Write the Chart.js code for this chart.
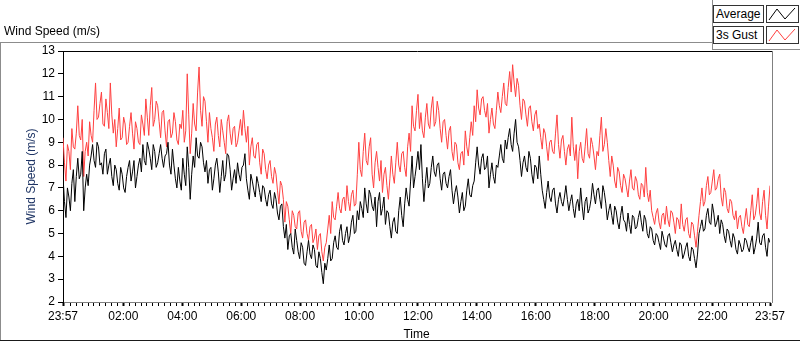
<!DOCTYPE html>
<html>
<head>
<meta charset="utf-8">
<script src="https://cdn.jsdelivr.net/npm/chart.js@4.4.1/dist/chart.umd.min.js"></script>
<style>
  html, body { margin: 0; padding: 0; background: #fff; }
  body { width: 800px; height: 342px; position: relative; overflow: hidden;
         font-family: "Liberation Sans", Arial, sans-serif; font-size: 12px; color: #000; }
  #chart { position: absolute; left: 0; top: 0; }
  .abs { position: absolute; }
  #topTitle { left: 4px; top: 24px; }
  #frameTop { left: 0; top: 42px; width: 712px; border-top: 1px solid #8c8c8c; }
  #frameLeft { left: 0; top: 42px; height: 299px; border-left: 1px solid #8c8c8c; }
  #frameBottom { left: 0; top: 340px; width: 800px; border-top: 1px solid #1a1a1a; }
  #legendPanel { left: 712px; top: 0; width: 88px; height: 49px; background: #fff;
                 border-left: 1px solid #8c8c8c; border-bottom: 1px solid #8c8c8c; }
  .legName { left: 713px; width: 47px; height: 16px; line-height: 16px; padding-left: 2px;
             border: 1px solid #333; background: #fff; }
  .legIcon { left: 766px; width: 31px; height: 16px; border: 1px solid #333; background: #fff; }
</style>
</head>
<body>
<canvas id="chart" width="800" height="342"></canvas>
<div id="topTitle" class="abs">Wind Speed (m/s)</div>
<div id="frameTop" class="abs"></div>
<div id="frameLeft" class="abs"></div>
<div id="frameBottom" class="abs"></div>
<div id="legendPanel" class="abs"></div>
<div class="abs legName" style="top:5px">Average</div>
<div class="abs legIcon" style="top:5px">
  <svg width="31" height="16"><polyline points="2,14 10,3 18,13 28,2" fill="none" stroke="#000" stroke-width="1"/></svg>
</div>
<div class="abs legName" style="top:26px">3s Gust</div>
<div class="abs legIcon" style="top:26px">
  <svg width="31" height="16"><polyline points="2,14 10,3 18,13 28,2" fill="none" stroke="#ff4040" stroke-width="1"/></svg>
</div>
<script>
// 24 h of wind speed samples (~3 min apart) (m/s)
const avgSpeed = [
  7.5, 6.4, 5.7, 7.0, 6.6, 6.0, 7.2, 7.8, 6.4, 7.5,
  8.3, 7.4, 7.6, 8.6, 6.0, 7.0, 7.6, 7.1, 8.0, 8.4,
  8.9, 8.2, 7.9, 9.0, 8.8, 8.0, 8.1, 7.6, 8.5, 8.7,
  7.6, 8.0, 8.3, 7.5, 7.1, 8.0, 7.8, 7.2, 6.9, 7.9,
  7.6, 7.0, 6.8, 7.5, 7.9, 8.2, 7.3, 7.7, 8.2, 7.0,
  7.5, 8.0, 8.3, 7.7, 8.9, 8.2, 8.0, 9.0, 8.7, 8.3,
  7.8, 8.9, 8.6, 7.9, 8.1, 8.5, 8.9, 8.3, 7.9, 8.4,
  8.5, 9.0, 8.0, 7.6, 8.7, 8.0, 7.4, 7.0, 7.9, 7.3,
  6.9, 8.3, 7.6, 7.1, 8.8, 7.9, 6.5, 7.6, 8.4, 7.9,
  9.2, 8.4, 8.3, 9.0, 8.8, 8.1, 7.7, 8.2, 7.2, 7.8,
  7.9, 6.9, 7.4, 8.0, 8.3, 7.7, 6.8, 7.5, 8.2, 7.3,
  7.6, 8.5, 8.4, 7.8, 6.9, 7.4, 7.8, 7.2, 8.1, 7.6,
  7.3, 7.9, 8.0, 8.5, 7.4, 6.9, 6.5, 7.6, 7.3, 6.9,
  6.6, 7.5, 7.2, 6.8, 6.4, 7.1, 7.0, 6.5, 6.2, 6.7,
  6.9, 6.3, 6.1, 6.8, 6.5, 5.9, 5.6, 6.2, 6.3, 5.3,
  4.8, 5.4, 4.3, 4.9, 5.0, 4.4, 4.1, 5.2, 4.7, 4.2,
  3.9, 4.6, 4.4, 3.7, 3.6, 4.2, 4.7, 4.1, 3.9, 4.5,
  4.3, 3.6, 3.5, 4.2, 3.9, 3.3, 2.8, 3.7, 3.4, 3.9,
  4.5, 3.8, 3.9, 4.6, 4.9, 4.4, 4.3, 5.1, 5.4, 4.7,
  4.5, 5.0, 5.3, 4.6, 4.9, 5.5, 5.8, 5.0, 5.1, 6.0,
  5.6, 6.4, 6.1, 5.7, 7.0, 6.3, 5.9, 6.9, 6.7, 6.2,
  6.0, 6.6, 5.3, 6.4, 6.8, 5.8, 6.1, 6.6, 5.4, 6.0,
  5.9, 5.3, 4.8, 5.5, 5.7, 5.1, 5.0, 6.0, 6.6, 5.8,
  5.3, 6.3, 7.0, 6.5, 6.2, 7.3, 8.4, 7.0, 7.5, 8.0,
  8.6, 7.8, 8.9, 7.4, 6.4, 7.2, 7.9, 7.0, 7.2, 7.9,
  8.4, 7.7, 7.5, 8.0, 8.1, 7.4, 6.9, 7.6, 7.7, 7.2,
  7.0, 7.5, 7.8, 6.9, 6.3, 6.8, 7.1, 6.6, 5.9, 6.4,
  6.8, 6.0, 6.2, 6.9, 7.4, 6.7, 6.6, 7.1, 7.3, 8.1,
  8.8, 8.0, 7.6, 8.3, 8.5, 7.8, 7.9, 8.4, 7.0, 7.6,
  8.1, 7.5, 7.2, 8.0, 7.9, 8.4, 8.9, 8.3, 8.1, 9.1,
  8.7, 9.2, 9.6, 8.9, 8.6, 9.4, 10.0, 9.0, 8.8, 8.2,
  7.5, 8.1, 8.4, 7.9, 7.7, 8.6, 8.3, 7.6, 7.2, 8.0,
  7.9, 7.4, 8.4, 7.6, 6.9, 6.5, 6.1, 6.8, 7.3, 6.6,
  6.4, 6.9, 7.0, 6.3, 5.9, 6.5, 6.8, 6.4, 6.2, 6.6,
  7.1, 6.5, 6.0, 6.4, 6.7, 6.1, 5.7, 6.3, 6.5, 6.0,
  7.0, 6.2, 5.6, 6.4, 6.6, 5.9, 6.1, 6.5, 7.2, 6.7,
  6.3, 6.9, 7.0, 6.5, 6.1, 7.1, 6.8, 6.3, 5.6, 6.0,
  6.3, 5.8, 5.4, 6.2, 6.0, 5.5, 5.2, 5.8, 6.2, 5.6,
  5.5, 5.1, 5.9, 5.4, 5.0, 5.8, 5.7, 5.2, 5.3, 5.7,
  6.0, 5.5, 5.1, 5.8, 5.6, 5.0, 4.8, 5.3, 5.2, 4.7,
  4.5, 5.0, 4.9, 4.6, 4.3, 5.1, 4.8, 4.5, 4.4, 4.9,
  5.0, 4.6, 4.2, 4.5, 4.7, 4.3, 4.0, 4.6, 4.5, 3.9,
  4.1, 4.4, 4.6, 4.0, 3.8, 4.4, 4.3, 3.9, 3.5, 4.1,
  5.0, 5.3, 5.6, 5.1, 5.2, 5.8, 6.1, 5.5, 5.4, 6.3,
  5.9, 5.3, 5.5, 5.8, 5.0, 5.6, 5.4, 4.9, 4.6, 5.2,
  5.1, 4.7, 4.4, 5.0, 4.8, 4.3, 4.1, 4.7, 4.5, 4.2,
  4.3, 4.8, 4.7, 4.4, 4.2, 4.6, 4.9, 4.1, 4.4, 4.8,
  5.5, 4.6, 4.5, 4.9, 5.0, 4.4, 4.0, 4.8, 4.6
];

const gustSpeed = [
  9.2, 8.1, 7.3, 8.9, 8.6, 7.8, 9.6, 8.8, 8.7, 9.4,
  10.6, 9.3, 9.1, 10.0, 7.5, 8.6, 9.0, 8.4, 9.9, 9.3,
  9.0, 10.4, 11.6, 10.0, 10.1, 10.7, 11.2, 9.8, 9.7, 10.9,
  10.3, 9.6, 11.6, 10.2, 9.4, 10.0, 8.8, 9.6, 10.5, 9.1,
  9.2, 10.1, 9.8, 8.9, 9.0, 9.7, 10.3, 9.4, 8.7, 9.9,
  9.6, 9.0, 8.9, 10.2, 9.8, 9.3, 10.9, 10.1, 9.3, 10.6,
  11.4, 9.7, 10.0, 10.8, 10.6, 9.9, 9.2, 10.3, 10.4, 9.5,
  8.8, 9.9, 10.0, 9.2, 9.4, 10.3, 9.9, 9.1, 8.9, 9.8,
  9.6, 10.4, 9.0, 9.5, 12.0, 10.2, 8.5, 9.4, 10.7, 9.8,
  9.5, 11.2, 12.3, 10.4, 9.7, 11.0, 10.8, 9.9, 9.0, 10.3,
  9.6, 9.2, 8.6, 9.8, 10.1, 9.3, 8.8, 10.0, 9.5, 9.0,
  8.5, 9.9, 10.2, 9.4, 8.9, 9.6, 9.7, 8.8, 9.0, 9.5,
  10.0, 9.3, 10.4, 9.6, 9.0, 9.7, 8.0, 8.8, 9.2, 8.4,
  8.3, 8.9, 9.0, 8.1, 7.6, 8.7, 8.5, 7.8, 7.4, 8.0,
  8.2, 7.5, 7.2, 7.9, 7.6, 6.9, 6.3, 7.3, 7.1, 6.5,
  5.5, 6.4, 6.2, 5.6, 5.0, 6.0, 5.8, 5.3, 5.2, 5.9,
  6.0, 5.1, 4.8, 5.5, 5.6, 5.0, 4.7, 5.3, 5.4, 4.6,
  4.8, 5.2, 4.3, 4.9, 5.0, 4.2, 3.8, 4.4, 4.6, 5.2,
  5.8, 5.0, 6.4, 5.7, 5.6, 6.2, 6.8, 6.1, 5.9, 6.5,
  6.6, 6.0, 7.1, 6.4, 6.0, 6.7, 6.9, 6.2, 6.3, 7.6,
  9.0, 7.8, 7.5, 8.6, 9.4, 8.2, 8.0, 8.8, 9.2, 7.6,
  7.0, 8.1, 8.6, 7.9, 7.3, 8.2, 6.8, 7.6, 7.9, 7.1,
  6.5, 7.4, 8.4, 7.6, 7.2, 8.1, 9.0, 8.0, 7.7, 8.5,
  8.6, 7.9, 7.5, 8.8, 9.4, 8.6, 10.6, 9.7, 9.5, 10.4,
  11.1, 9.6, 10.3, 9.5, 9.2, 10.1, 10.7, 9.8, 9.6, 10.5,
  11.0, 9.7, 9.9, 10.8, 10.4, 9.6, 9.0, 9.9, 10.0, 9.3,
  8.7, 9.5, 9.7, 8.6, 8.2, 9.0, 8.9, 8.1, 7.8, 8.5,
  8.6, 8.0, 9.5, 8.8, 8.4, 9.2, 9.9, 9.3, 10.6, 9.9,
  11.3, 10.5, 10.2, 10.9, 11.0, 10.4, 10.1, 10.7, 9.4, 10.0,
  10.5, 9.8, 9.6, 10.4, 11.2, 10.6, 10.3, 11.0, 11.6, 10.7,
  10.6, 11.4, 12.1, 11.2, 12.4, 11.6, 11.0, 11.8, 11.5, 10.6,
  10.0, 10.9, 10.8, 10.2, 9.7, 10.5, 10.6, 9.9, 9.5, 10.2,
  10.4, 9.6, 9.8, 9.2, 8.7, 9.6, 9.4, 8.8, 8.2, 9.0,
  9.1, 8.6, 8.5, 9.4, 10.2, 8.9, 8.3, 9.1, 9.3, 8.6,
  8.0, 8.7, 8.9, 8.4, 10.1, 8.8, 8.2, 8.9, 7.4, 8.6,
  9.0, 8.3, 8.1, 8.8, 9.6, 8.5, 8.3, 9.2, 8.9, 8.4,
  7.8, 8.6, 8.4, 9.3, 10.1, 8.6, 8.9, 9.6, 9.0, 8.2,
  7.5, 8.4, 8.0, 7.3, 7.0, 7.9, 7.7, 7.1, 6.8, 7.6,
  7.4, 7.0, 6.6, 7.3, 7.8, 7.0, 6.9, 7.5, 7.3, 6.7,
  6.5, 7.2, 7.1, 6.6, 7.9, 6.8, 6.4, 6.9, 6.0, 5.7,
  5.4, 5.9, 6.1, 5.5, 5.2, 5.8, 5.9, 5.4, 6.2, 5.6,
  5.3, 6.0, 5.9, 5.5, 5.0, 5.7, 5.6, 5.2, 6.3, 5.4,
  5.1, 5.6, 5.7, 5.0, 4.8, 5.5, 5.4, 4.9, 4.4, 5.1,
  5.8, 6.4, 7.0, 6.2, 6.4, 7.1, 7.5, 6.7, 6.8, 7.3,
  7.8, 6.9, 7.0, 7.4, 7.6, 6.6, 6.2, 7.0, 6.8, 6.1,
  5.9, 6.5, 6.4, 5.8, 5.6, 6.0, 5.2, 5.7, 5.8, 5.3,
  5.0, 5.6, 6.1, 5.4, 5.3, 6.0, 6.7, 5.6, 5.8, 6.3,
  7.0, 5.9, 5.6, 6.4, 6.9, 5.8, 5.2, 6.2, 7.1
];

// minutes after 23:57 where labelled ticks sit
const xTickMinutes = [0, 123, 243, 363, 483, 603, 723, 843, 963, 1083, 1203, 1323, 1440];
const xTickLabels = ['23:57', '02:00', '04:00', '06:00', '08:00', '10:00', '12:00',
                     '14:00', '16:00', '18:00', '20:00', '22:00', '23:57'];

const spanMinutes = 1440;
const toPoints = (arr) => arr.map((v, i) => ({ x: i * spanMinutes / (arr.length - 1), y: v }));

const FONT = { family: '"Liberation Sans", Arial, sans-serif', size: 12 };

// top (black) and right (grey) edges of the plot frame
const plotFrame = {
  id: 'plotFrame',
  afterDraw(chart) {
    const { ctx, chartArea: a } = chart;
    ctx.save();
    ctx.lineWidth = 1;
    ctx.strokeStyle = '#000';
    ctx.beginPath();
    ctx.moveTo(a.left, a.top + 0.5);
    ctx.lineTo(a.right + 2, a.top + 0.5);
    ctx.stroke();
    ctx.strokeStyle = '#808080';
    ctx.beginPath();
    ctx.moveTo(a.right + 2.5, a.top);
    ctx.lineTo(a.right + 2.5, a.bottom + 1);
    ctx.stroke();
    ctx.restore();
  },
};

new Chart(document.getElementById('chart'), {
  type: 'line',
  data: {
    datasets: [
      { label: 'Average', data: toPoints(avgSpeed), borderColor: '#000000',
        borderWidth: 1, pointRadius: 0, tension: 0, order: 1 },
      { label: '3s Gust', data: toPoints(gustSpeed), borderColor: '#ff4040',
        borderWidth: 1, pointRadius: 0, tension: 0, order: 2 },
    ],
  },
  options: {
    responsive: false,
    animation: false,
    layout: { padding: { top: 51, right: 30, left: 0, bottom: 0 } },
    plugins: { legend: { display: false }, tooltip: { enabled: false } },
    scales: {
      x: {
        type: 'linear',
        min: 0,
        max: spanMinutes,
        afterBuildTicks: (scale) => {
          const all = new Set(xTickMinutes);
          for (let m = 15; m < 1436; m += 12) all.add(m);
          scale.ticks = [...all].sort((a, b) => a - b).map((v) => ({ value: v }));
        },
        afterFit: (scale) => { scale.height = 40; },
        ticks: {
          autoSkip: false,
          maxRotation: 0,
          padding: 3,
          color: '#000',
          font: FONT,
          callback: (value) => {
            const k = xTickMinutes.indexOf(value);
            return k >= 0 ? xTickLabels[k] : '';
          },
        },
        grid: {
          drawOnChartArea: false,
          drawTicks: true,
          tickLength: 4,
          tickColor: '#000',
          tickWidth: (c) => (xTickMinutes.includes(c.tick && c.tick.value) ? 2 : 1),
        },
        border: { color: '#808080', width: 1 },
        title: { display: true, text: 'Time', color: '#000', font: FONT, padding: 0 },
      },
      y: {
        min: 2,
        max: 13,
        afterFit: (scale) => { scale.width = 63; },
        ticks: { stepSize: 1, color: '#000', font: FONT, padding: 3 },
        grid: { drawOnChartArea: false, tickLength: 5, tickColor: '#000' },
        border: { color: '#000', width: 1 },
        title: { display: true, text: 'Wind Speed (m/s)', color: '#1f3565', font: FONT,
                 padding: { top: 24, bottom: 0 } },
      },
    },
  },
  plugins: [plotFrame],
});
</script>
</body>
</html>
